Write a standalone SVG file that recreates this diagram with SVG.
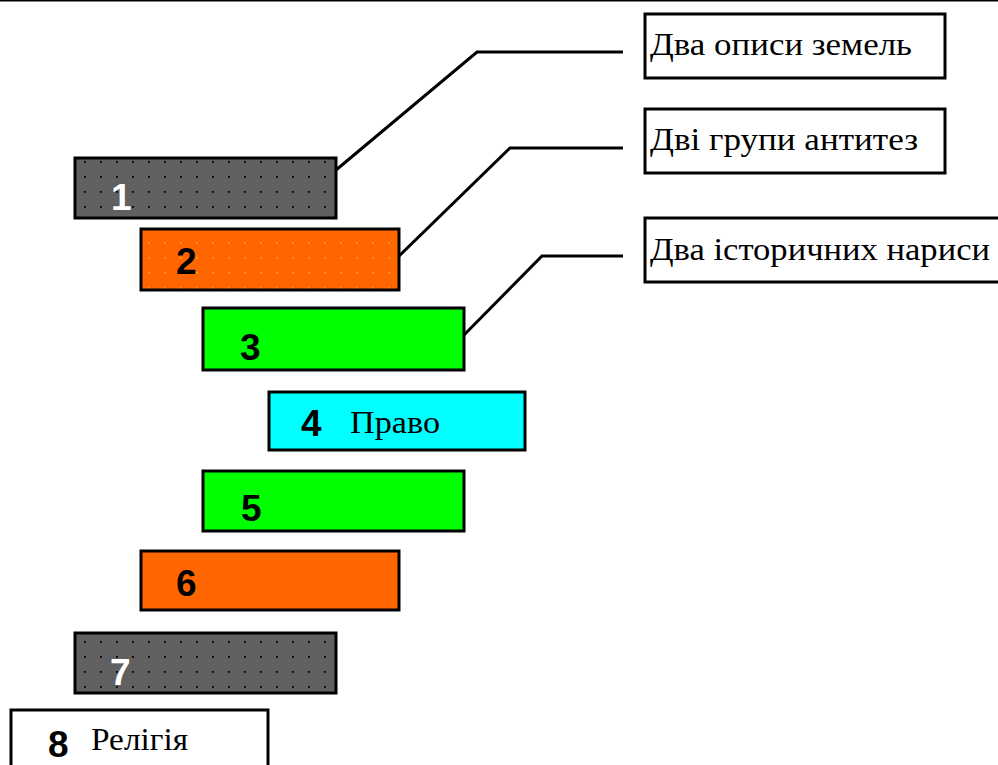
<svg xmlns="http://www.w3.org/2000/svg" width="998" height="765" viewBox="0 0 998 765">
<style>
.box{stroke:#000;stroke-width:3}
.num{font-family:"Liberation Sans",Arial,sans-serif;font-weight:bold;font-size:37px}
.lbl{font-family:"Liberation Serif","Times New Roman",serif;font-size:32px;fill:#000}
.conn{fill:none;stroke:#000;stroke-width:3;stroke-linejoin:miter}
</style>
<defs>
<pattern id="dotsGray" patternUnits="userSpaceOnUse" x="4" y="11" width="16" height="15">
<rect width="16" height="15" fill="#606060"/>
<rect x="0" y="0" width="1.8" height="1.8" fill="#000"/>
</pattern>
<pattern id="dotsOrange" patternUnits="userSpaceOnUse" x="4" y="2" width="16" height="15">
<rect width="16" height="15" fill="#ff6600"/>
<rect x="0" y="0" width="1.8" height="1.8" fill="#ffa000"/>
</pattern>
</defs>
<rect x="0" y="0" width="998" height="765" fill="#fff"/>
<line x1="0" y1="0.75" x2="998" y2="0.75" stroke="#000" stroke-width="1.5"/>

<g id="connectors">
<polyline class="conn" points="336,170 477,52 623,52"/>
<polyline class="conn" points="399,256 510,148 623,148"/>
<polyline class="conn" points="463,336 542,256 623,256"/>
</g>

<g id="step1"><rect class="box" x="75" y="158" width="261" height="60" fill="url(#dotsGray)"/><text class="num" x="111" y="210" fill="#fff">1</text></g>
<g id="step2"><rect class="box" x="141" y="229" width="258" height="61" fill="url(#dotsOrange)"/><text class="num" x="176" y="274" fill="#000">2</text></g>
<g id="step3"><rect class="box" x="203" y="308" width="261" height="62" fill="#00ff00"/><text class="num" x="240" y="360" fill="#000">3</text></g>
<g id="step4"><rect class="box" x="269" y="392" width="256" height="58" fill="#00ffff"/><text class="num" x="301" y="436" fill="#000">4</text><text class="lbl" x="350" y="433" textLength="90" lengthAdjust="spacingAndGlyphs">Право</text></g>
<g id="step5"><rect class="box" x="203" y="471" width="261" height="60" fill="#00ff00"/><text class="num" x="241" y="521" fill="#000">5</text></g>
<g id="step6"><rect class="box" x="141" y="551" width="258" height="59" fill="#ff6600"/><text class="num" x="176" y="596" fill="#000">6</text></g>
<g id="step7"><rect class="box" x="75" y="633" width="261" height="60" fill="url(#dotsGray)"/><text class="num" x="110" y="685" fill="#fff">7</text></g>
<g id="step8"><rect class="box" x="11" y="710" width="257" height="70" fill="#fff"/><text class="num" x="48" y="757" fill="#000">8</text><text class="lbl" x="91" y="750" textLength="97" lengthAdjust="spacingAndGlyphs">Релігія</text></g>

<g id="labelA"><rect class="box" x="645" y="14" width="300" height="64" fill="#fff"/><text class="lbl" x="650" y="55" textLength="262" lengthAdjust="spacingAndGlyphs">Два описи земель</text></g>
<g id="labelB"><rect class="box" x="645" y="109" width="300" height="64" fill="#fff"/><text class="lbl" x="650" y="150" textLength="268" lengthAdjust="spacingAndGlyphs">Дві групи антитез</text></g>
<g id="labelC"><rect class="box" x="645" y="218" width="360" height="64" fill="#fff"/><text class="lbl" x="650" y="260" textLength="340" lengthAdjust="spacingAndGlyphs">Два історичних нариси</text></g>
</svg>
